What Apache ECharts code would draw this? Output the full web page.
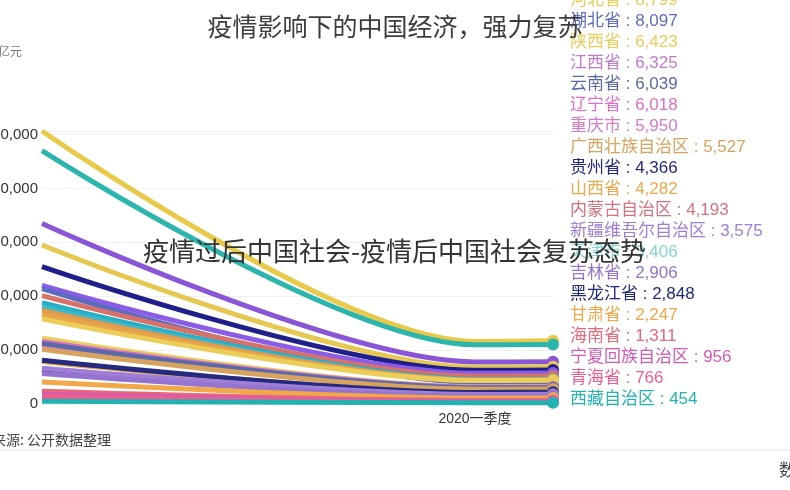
<!DOCTYPE html>
<html><head><meta charset="utf-8">
<script src="https://cdn.jsdelivr.net/npm/echarts@6/dist/echarts.min.js"></script>
<style>html,body{margin:0;padding:0;background:#fff}#c{width:790px;height:490px}</style>
</head><body><div id="c"></div>
<script>
// ---- data ----
const provinces = ['广东省','江苏省','山东省','浙江省','河南省','四川省','湖北省','福建省','湖南省','上海市','安徽省','北京市','河北省','陕西省','江西省','辽宁省','重庆市','云南省','广西壮族自治区','内蒙古自治区','山西省','贵州省','天津市','黑龙江省','新疆维吾尔自治区','吉林省','甘肃省','海南省','宁夏回族自治区','青海省','西藏自治区'];
const values2019 = [101300, 94000, 67000, 59000, 51000, 44000, 42800, 40200, 37600, 36000, 34700, 33200, 31600, 24400, 23200, 23000, 22000, 22500, 20300, 16000, 15800, 16200, 13200, 12700, 13300, 11300, 8200, 4700, 3500, 2800, 1000];
const valuesQ1 = [23200, 22000, 15600, 13600, 12500, 11400, 8000, 10300, 9200, 9000, 8900, 8800, 8700, 6400, 6300, 6000, 5900, 6000, 5500, 4150, 4250, 4300, 3380, 2820, 3550, 2880, 2230, 1300, 950, 760, 450];
const valuesNow = [23500, 22100, 15700, 13800, 12600, 11500, 8097, 10400, 9300, 9100, 9000, 8900, 8799, 6423, 6325, 6018, 5950, 6039, 5527, 4193, 4282, 4366, 3406, 2848, 3575, 2906, 2247, 1311, 956, 766, 454];
const periods = [0, 1, 1.18];
const periodLabels = { 1: '2020一季度' };

// ---- styles ----
const colors = ['#e8c94a','#2bb5ad','#8a55d6','#e6c752','#1f1f8c','#8a5ce8','#5d6cc0','#d7726a','#26aec4','#3fb8c8','#e09a50','#e8a448','#eccd58','#ebcd5c','#c27ad0','#dd6fc6','#d97ac8','#5a6aa8','#d8a35f','#d4727e','#eea84a','#232a80','#88d4d4','#1f2b7a','#a07ed8','#9474d0','#f0a848','#e8687a','#d25ab8','#ee5f90','#22b2b2'];
const FONT = "'Noto Sans CJK SC', 'Noto Sans', sans-serif";
const LFONT = "'Liberation Sans', 'Noto Sans CJK SC', sans-serif";
const LABEL_BOTTOM = 399, LABEL_STEP = 21;

const order = valuesNow.map((v, i) => i).sort((a, b) => valuesNow[a] - valuesNow[b]);
const rank = [];
order.forEach((idx, r) => { rank[idx] = r; });

const dataCols = [values2019, valuesQ1, valuesNow];
const series = provinces.map((name, i) => ({
  name, type: 'line', smooth: 0.3, smoothMonotone: 'x', clip: false,
  data: periods.map((p, k) => [p, dataCols[k][i]]),
  lineStyle: { width: 5, color: colors[i] },
  itemStyle: { color: colors[i] },
  symbol: 'circle',
  symbolSize: (v, p) => (p.dataIndex === periods.length - 1 ? 12 : 0),
  showSymbol: true,
  emphasis: { disabled: true },
  endLabel: {
    show: true, distance: 17, color: colors[i], fontSize: 17, fontFamily: LFONT,
    formatter: p => p.seriesName + ' : ' + p.value[1].toLocaleString('en-US')
  },
  labelLayout: params => ({ y: LABEL_BOTTOM - rank[params.seriesIndex] * LABEL_STEP, verticalAlign: 'middle' })
}));

const chart = echarts.init(document.getElementById('c'), null, { renderer: 'canvas' });
chart.setOption({
  animation: false,
  backgroundColor: '#fff',
  title: {
    text: '疫情影响下的中国经济，强力复苏', left: 'center', top: 9,
    textStyle: { fontSize: 25, fontWeight: 'normal', color: '#3c3c3c', fontFamily: FONT }
  },
  grid: { left: 42, right: 237, top: 131, bottom: 86, containLabel: false, outerBoundsMode: 'none' },
  xAxis: {
    type: 'value', min: 0, max: 1.18, interval: 1,
    axisLine: { show: false }, axisTick: { show: false }, splitLine: { show: false },
    axisLabel: { fontSize: 14, color: '#333', margin: 8, fontFamily: LFONT, formatter: v => periodLabels[v] || '' }
  },
  yAxis: {
    type: 'value', min: 0, max: v => v.max, interval: 20000,
    name: '亿元', nameLocation: 'end', nameGap: 74,
    nameTextStyle: { color: '#777', fontSize: 12, fontFamily: FONT, padding: [0, 64, 0, 0] },
    axisLine: { show: false }, axisTick: { show: false },
    splitLine: { lineStyle: { color: '#f1f1f1' } },
    axisLabel: { fontSize: 15, color: '#333', margin: 4, fontFamily: LFONT, showMaxLabel: false,
      formatter: v => v.toLocaleString('en-US') }
  },
  graphic: [
    { type: 'line', shape: { x1: 0, y1: 450, x2: 790, y2: 450 }, style: { stroke: '#e3e3e3', lineWidth: 1 }, z: 1 },
    { type: 'text', left: -8, top: 433, style: { text: '来源: 公开数据整理', fontSize: 14, fill: '#444', fontFamily: FONT }, z: 1 },
    { type: 'text', left: 779, top: 461, style: { text: '数据', fontSize: 17, fill: '#444', fontFamily: FONT }, z: 1 },
    { type: 'text', left: 143, top: 238, style: { text: '疫情过后中国社会-疫情后中国社会复苏态势', fontSize: 26, fill: '#333', fontFamily: FONT }, z: 100 }
  ],
  series
});
</script>
</body></html>
